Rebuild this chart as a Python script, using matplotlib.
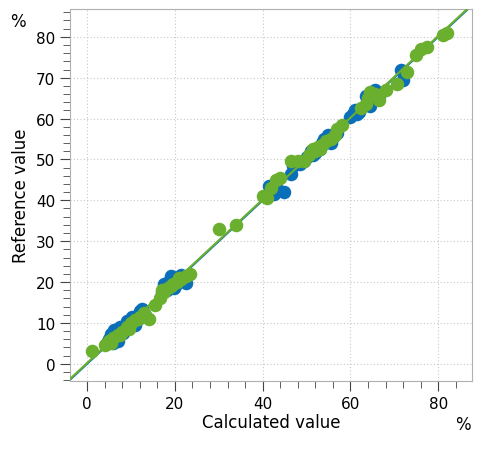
import matplotlib
matplotlib.use("Agg")
import matplotlib.pyplot as plt
from matplotlib.ticker import MultipleLocator

blue_x = [4.5, 5.5, 6.2, 7.0, 7.5, 8.2, 9.0, 9.5, 10.2, 11.0, 11.8, 12.5, 13.2, 6.8, 8.8, 10.8,
          5.0, 6.0, 7.8, 9.8, 11.5, 12.0,
          17.5, 18.2, 19.0, 19.8, 20.5, 21.5, 22.5, 17.0, 18.8, 20.0,
          41.5, 42.5, 43.5, 44.8, 46.5, 47.0, 48.5, 50.0, 51.0, 52.0, 53.0, 54.0, 55.0, 56.0, 57.0,
          49.5, 51.5, 53.5, 55.5,
          60.0, 61.0, 62.0, 63.5, 64.5, 65.5, 66.5, 71.5, 72.0, 60.5, 61.5]
blue_y = [5.0, 7.2, 8.2, 5.5, 9.0, 7.5, 10.5, 9.0, 11.5, 10.0, 12.2, 13.5, 12.0, 6.0, 8.5, 9.5,
          6.0, 5.0, 8.0, 10.5, 11.0, 13.0,
          19.5, 18.0, 21.5, 18.5, 21.0, 21.8, 19.8, 17.5, 20.5, 19.0,
          43.5, 41.5, 42.5, 42.0, 46.5, 48.5, 49.0, 50.5, 52.0, 51.5, 52.5, 55.0, 56.0, 55.5, 56.5,
          49.5, 51.0, 54.0, 54.0,
          60.5, 62.0, 61.5, 65.5, 63.0, 67.0, 65.5, 72.0, 69.5, 61.0, 61.0]
green_x = [1.2, 4.0, 5.0, 6.0, 7.0, 8.0, 9.0, 10.0, 11.0, 12.0, 13.0, 14.0, 15.5, 16.5, 17.5, 18.5,
           19.5, 20.5, 21.5, 22.5, 23.5, 30.0, 34.0, 40.0, 41.0, 42.0, 43.0, 44.0, 46.5, 48.0,
           49.5, 50.5, 51.5, 52.5, 53.5, 54.5, 55.5, 57.0, 58.0, 62.5, 63.5, 64.5, 65.5, 66.5,
           68.0, 70.5, 73.0, 75.0, 76.0, 77.5, 81.0, 82.0,
           5.5, 7.5, 9.5, 11.5, 17.0, 19.0, 21.0, 52.0, 53.0, 56.5, 64.0]
green_y = [3.2, 4.5, 5.5, 6.2, 7.0, 7.8, 9.0, 10.0, 10.8, 11.5, 12.5, 11.0, 14.5, 16.0, 17.5, 18.5,
           19.5, 20.0, 20.8, 21.5, 22.0, 33.0, 34.0, 41.0, 40.5, 43.0, 45.0, 45.5, 49.5, 49.5,
           49.5, 51.0, 52.5, 53.0, 53.5, 54.5, 55.0, 57.5, 58.5, 62.5, 63.5, 66.5, 66.0, 64.5,
           67.0, 68.5, 71.5, 75.5, 77.0, 77.5, 80.5, 81.0,
           5.0, 7.0, 8.5, 11.0, 18.0, 19.0, 21.0, 52.0, 52.5, 56.0, 65.0]

fig = plt.figure(figsize=(4.8, 4.56), dpi=100)
ax = fig.add_axes([70/480, 1 - 382/456, 402/480, 372/456])
ax.set_xlim(-3.9, 87.7)
ax.set_ylim(-4.2, 86.8)
ax.grid(True, color="#c8c8c8", linestyle=(0, (1, 2)), linewidth=0.8)
ax.set_axisbelow(True)
ax.plot([-3.9, 87.7], [-3.9, 87.7], color="#0a6fb8", lw=1.5, zorder=2)
ax.scatter(blue_x, blue_y, s=95, color="#0a6fb8", zorder=3, linewidths=0)
ax.scatter(green_x, green_y, s=95, color="#6aaf2e", zorder=4, linewidths=0)
ax.plot([-3.9, 87.7], [-3.7, 87.9], color="#6aaf2e", lw=1.5, zorder=5)
ax.xaxis.set_major_locator(MultipleLocator(20))
ax.xaxis.set_minor_locator(MultipleLocator(4))
ax.yaxis.set_major_locator(MultipleLocator(10))
ax.yaxis.set_minor_locator(MultipleLocator(2))
ax.tick_params(which="major", length=7, color="#444444", labelsize=11)
ax.tick_params(which="minor", length=5, color="#444444")
for s in ax.spines.values():
    s.set_color("#b0b0b0")
ax.set_xlabel("Calculated value", fontsize=12, labelpad=2)
ax.set_ylabel("Reference value", fontsize=12)
fig.text(463/480, 1 - 425/456, "%", fontsize=12, ha="center", va="center")
fig.text(18/480, 1 - 22/456, "%", fontsize=12, ha="center", va="center")
fig.savefig("out.png", dpi=100)
